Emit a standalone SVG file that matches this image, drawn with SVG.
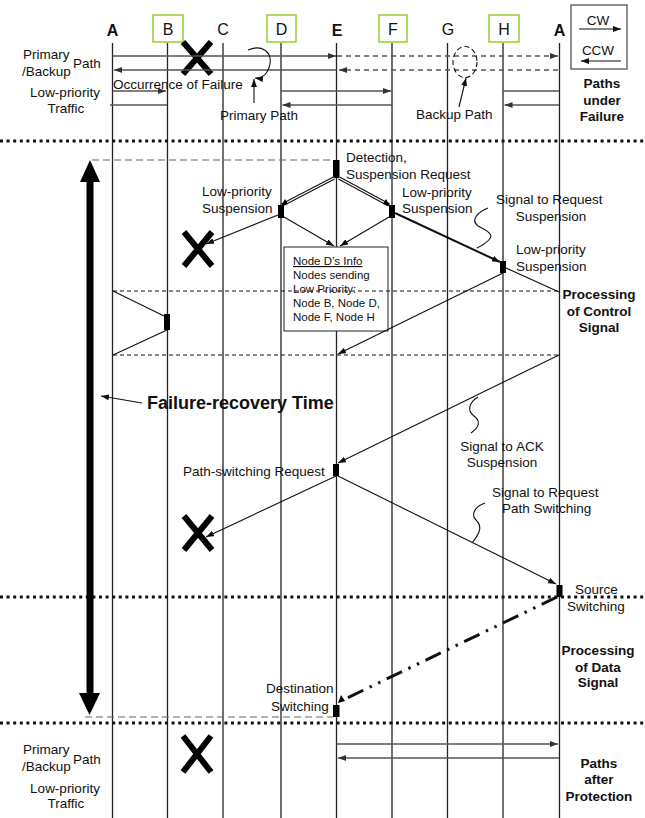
<svg xmlns="http://www.w3.org/2000/svg" width="645" height="818" viewBox="0 0 645 818">
<style>
text{font-family:"Liberation Sans",Arial,sans-serif;fill:#111}
.t{font-size:13.5px}
.n{font-size:16px}
.b{font-weight:bold}
.s{font-size:11.5px}
.v{stroke:#222;stroke-width:1.3;fill:none}
.p{stroke:#555;stroke-width:1.3;fill:none}
.l{stroke:#111;stroke-width:1.1;fill:none}
.dot{stroke:#111;stroke-width:3;stroke-dasharray:3 3.6;fill:none}
.dsh{stroke:#111;stroke-width:1;stroke-dasharray:4 3;fill:none}
.gd{stroke:#666;stroke-width:1.2;stroke-dasharray:7 4;fill:none}
.x{stroke:#000;stroke-width:6;fill:none}
.blk{fill:#000}
.gb{fill:#fff;stroke:#9c3;stroke-width:1.5}
</style>
<defs>
<marker id="ar" markerWidth="8" markerHeight="6" refX="8" refY="3" orient="auto" markerUnits="userSpaceOnUse"><path d="M0,0 L8,3 L0,6 z" fill="#111"/></marker>
<marker id="arg" markerWidth="8" markerHeight="6" refX="8" refY="3" orient="auto" markerUnits="userSpaceOnUse"><path d="M0,0 L8,3 L0,6 z" fill="#333"/></marker>
</defs>

<!-- node lifelines and headers -->
<g id="nodeA"><line class="v" x1="112.5" y1="43" x2="112.5" y2="818"/><text class="n b" x="112.5" y="36" text-anchor="middle">A</text></g>
<g id="nodeB"><rect class="gb" x="153" y="15" width="30" height="27"/><line class="v" x1="167.5" y1="43" x2="167.5" y2="818"/><text class="n" x="168" y="35" text-anchor="middle">B</text></g>
<g id="nodeC"><line class="v" x1="223" y1="43" x2="223" y2="818"/><text class="n" x="223" y="35" text-anchor="middle">C</text></g>
<g id="nodeD"><rect class="gb" x="267" y="15" width="29" height="27"/><line class="v" x1="281" y1="43" x2="281" y2="818"/><text class="n" x="281.5" y="35" text-anchor="middle">D</text></g>
<g id="nodeE"><line class="v" x1="336.5" y1="43" x2="336.5" y2="818"/><text class="n b" x="337" y="36" text-anchor="middle">E</text></g>
<g id="nodeF"><rect class="gb" x="379" y="15" width="28" height="27"/><line class="v" x1="392" y1="43" x2="392" y2="818"/><text class="n" x="393" y="35" text-anchor="middle">F</text></g>
<g id="nodeG"><line class="v" x1="447.5" y1="43" x2="447.5" y2="818"/><text class="n" x="448" y="35" text-anchor="middle">G</text></g>
<g id="nodeH"><rect class="gb" x="489" y="15" width="30" height="27"/><line class="v" x1="503" y1="43" x2="503" y2="818"/><text class="n" x="504" y="35" text-anchor="middle">H</text></g>
<g id="nodeA2"><line class="v" x1="559.5" y1="43" x2="559.5" y2="818"/><text class="n b" x="559.5" y="36" text-anchor="middle">A</text></g>

<!-- legend -->
<g id="legend">
<rect x="571" y="5" width="56" height="64" fill="#fff" stroke="#555" stroke-width="1.3"/>
<text class="t" x="598" y="25" text-anchor="middle">CW</text>
<line class="l" x1="579" y1="29" x2="621" y2="29" marker-end="url(#ar)"/>
<text class="t" x="598" y="55" text-anchor="middle">CCW</text>
<line class="l" x1="621" y1="61" x2="581" y2="61" marker-end="url(#ar)"/>
<text class="t b" x="602" y="88" text-anchor="middle">Paths</text>
<text class="t b" x="602" y="105" text-anchor="middle">under</text>
<text class="t b" x="602" y="121" text-anchor="middle">Failure</text>
</g>

<!-- separators -->
<g id="separators">
<line class="dot" x1="0" y1="141" x2="645" y2="141"/>
<line class="dot" x1="0" y1="597" x2="645" y2="597"/>
<line class="dot" x1="0" y1="723" x2="645" y2="723"/>
</g>

<!-- labels -->
<g id="labels">
<text class="t" x="23" y="59">Primary</text>
<text class="t" x="22" y="76">/Backup</text>
<text class="t" x="73" y="68">Path</text>
<text class="t" x="65" y="97" text-anchor="middle">Low-priority</text>
<text class="t" x="66" y="113" text-anchor="middle">Traffic</text>
<text class="t" x="113" y="89" font-size="14">Occurrence of Failure</text>
<text class="t" x="220" y="120">Primary Path</text>
<text class="t" x="416" y="119">Backup Path</text>

<text class="t" x="346" y="162">Detection,</text>
<text class="t" x="346" y="179">Suspension Request</text>
<text class="t" x="202" y="196">Low-priority</text>
<text class="t" x="202" y="213">Suspension</text>
<text class="t" x="402" y="197">Low-priority</text>
<text class="t" x="402" y="213">Suspension</text>
<text class="t" x="516" y="254">Low-priority</text>
<text class="t" x="516" y="271">Suspension</text>
<text class="t" x="496" y="204">Signal to Request</text>
<text class="t" x="551" y="221" text-anchor="middle">Suspension</text>
<text class="t b" x="599" y="299" text-anchor="middle">Processing</text>
<text class="t b" x="599" y="316" text-anchor="middle">of Control</text>
<text class="t b" x="599" y="332" text-anchor="middle">Signal</text>

<text class="b" x="147" y="409" font-size="18">Failure-recovery Time</text>
<text class="t" x="502" y="451" text-anchor="middle">Signal to ACK</text>
<text class="t" x="502" y="467" text-anchor="middle">Suspension</text>
<text class="t" x="183" y="476">Path-switching Request</text>
<text class="t" x="492" y="497">Signal to Request</text>
<text class="t" x="502" y="513">Path Switching</text>
<text class="t" x="575" y="594">Source</text>
<text class="t" x="567" y="611">Switching</text>
<text class="t" x="266" y="693">Destination</text>
<text class="t" x="271" y="711">Switching</text>
<text class="t b" x="598" y="655" text-anchor="middle">Processing</text>
<text class="t b" x="598" y="672" text-anchor="middle">of Data</text>
<text class="t b" x="598" y="687" text-anchor="middle">Signal</text>

<text class="t" x="23" y="754">Primary</text>
<text class="t" x="22" y="771">/Backup</text>
<text class="t" x="73" y="764">Path</text>
<text class="t" x="65" y="793" text-anchor="middle">Low-priority</text>
<text class="t" x="66" y="808" text-anchor="middle">Traffic</text>
<text class="t b" x="599" y="768" text-anchor="middle">Paths</text>
<text class="t b" x="599" y="784" text-anchor="middle">after</text>
<text class="t b" x="599" y="801" text-anchor="middle">Protection</text>
</g>

<!-- info box -->
<g id="infoBox">
<rect x="284" y="247" width="104" height="84" fill="#fff" stroke="#222" stroke-width="1"/>
<text class="s" x="293" y="265" text-decoration="underline">Node D’s Info</text>
<text class="s" x="293" y="279">Nodes sending</text>
<text class="s" x="293" y="293">Low Priority:</text>
<text class="s" x="293" y="307">Node B, Node D,</text>
<text class="s" x="293" y="321">Node F, Node H</text>
</g>

<!-- failures -->
<g id="failures">
<path class="x" d="M183,42 L211,74 M211,42 L183,74"/>
<path class="x" d="M184,232 L212,266 M212,232 L184,266"/>
<path class="x" d="M184,516 L212,550 M212,516 L184,550"/>
<path class="x" d="M183,736 L211,772 M211,736 L183,772"/>
</g>

<!-- connectors -->
<g id="connectors">
<!-- top paths -->
<line class="p" x1="112.5" y1="56" x2="336" y2="56" marker-end="url(#arg)"/>
<line class="p" x1="337" y1="56" x2="558" y2="56" stroke-dasharray="5 4" marker-end="url(#arg)"/>
<line class="p" x1="558" y1="70" x2="339" y2="70" stroke-dasharray="5 4" marker-end="url(#arg)"/>
<line class="p" x1="336" y1="70" x2="114" y2="70" marker-end="url(#arg)"/>
<line class="p" x1="112.5" y1="91" x2="166" y2="91" marker-end="url(#arg)"/>
<line class="p" x1="110" y1="105" x2="167" y2="105"/>
<line class="p" x1="281" y1="91" x2="391" y2="91" marker-end="url(#arg)"/>
<line class="p" x1="392" y1="105" x2="282.5" y2="105" marker-end="url(#arg)"/>
<line class="p" x1="503" y1="91" x2="559" y2="91"/>
<line class="p" x1="559" y1="105" x2="504.5" y2="105" marker-end="url(#arg)"/>
<path class="l" d="M248,50 C262,44 272,52 270,64 C268,74 262,79 255,78" marker-end="url(#ar)"/>
<line class="l" x1="254" y1="103" x2="254" y2="79" marker-end="url(#ar)"/>
<ellipse cx="465" cy="62" rx="12" ry="15.5" fill="none" stroke="#111" stroke-width="1.1" stroke-dasharray="5 3"/>
<line class="l" x1="459" y1="107" x2="466" y2="78" marker-end="url(#ar)"/>

<!-- failure-recovery time -->
<line class="gd" x1="92" y1="160" x2="334" y2="160"/>
<line class="gd" x1="85" y1="717" x2="333" y2="717"/>
<line x1="90" y1="178" x2="90" y2="696" stroke="#000" stroke-width="7"/>
<path class="blk" d="M80,182 L90,160 L100,182 z"/>
<path class="blk" d="M79,693 L89.5,715 L100,693 z"/>
<line class="l" x1="142" y1="403" x2="101" y2="396" marker-end="url(#ar)"/>

<!-- control signal -->
<rect class="blk" x="333" y="160" width="6.5" height="18"/>
<line x1="334" y1="178" x2="282" y2="205" stroke="#111" stroke-width="3.6"/>
<line x1="334" y1="178" x2="282" y2="205" stroke="#fff" stroke-width="1.4"/>
<path class="blk" d="M281,206 L285,199 L288,204 z"/>
<line x1="339" y1="178" x2="389" y2="205" stroke="#111" stroke-width="3.6"/>
<line x1="339" y1="178" x2="389" y2="205" stroke="#fff" stroke-width="1.4"/>
<path class="blk" d="M390,206 L383,204 L386,199 z"/>
<rect class="blk" x="278" y="205" width="6" height="13"/>
<rect class="blk" x="389" y="205" width="6" height="13"/>
<line class="l" x1="278" y1="215" x2="206" y2="244" marker-end="url(#ar)"/>
<line class="l" x1="284" y1="217" x2="334" y2="246" marker-end="url(#ar)"/>
<line class="l" x1="389" y1="217" x2="340" y2="246" marker-end="url(#ar)"/>
<line x1="395" y1="213" x2="500" y2="262" stroke="#111" stroke-width="2" marker-end="url(#ar)"/>
<rect class="blk" x="500" y="261" width="6" height="12"/>
<line class="l" x1="506" y1="268" x2="559" y2="292"/>
<path class="l" d="M488,208 C478,212 470,220 478,226 C490,232 500,236 477,248"/>
<line class="dsh" x1="113" y1="291" x2="560" y2="291"/>
<line class="dsh" x1="113" y1="355" x2="560" y2="355"/>
<line class="l" x1="113" y1="291" x2="164" y2="316"/>
<rect class="blk" x="164" y="314" width="6" height="16"/>
<line class="l" x1="167" y1="330" x2="113" y2="355"/>
<line class="l" x1="503" y1="273" x2="338" y2="354" marker-end="url(#ar)"/>

<!-- ACK / path switching -->
<line class="l" x1="559" y1="355" x2="338" y2="463" marker-end="url(#ar)"/>
<path class="l" d="M478,397 C470,402 466,410 474,416 C482,422 478,428 471,433"/>
<rect class="blk" x="333" y="464" width="6" height="12"/>
<line class="l" x1="336" y1="476" x2="206" y2="537" marker-end="url(#ar)"/>
<line class="l" x1="338" y1="476" x2="556" y2="584" marker-end="url(#ar)"/>
<path class="l" d="M485,503 C476,506 470,514 476,520 C482,526 481,532 472,543"/>
<rect class="blk" x="556.5" y="585" width="6" height="12"/>

<!-- data signal -->
<line x1="557" y1="597" x2="343" y2="700" stroke="#111" stroke-width="3" stroke-dasharray="17 7 2.5 7 2.5 7"/>
<path class="blk" d="M338,703 L341,695 L345,701 z"/>
<rect class="blk" x="333" y="705" width="6.5" height="12"/>

<!-- after protection -->
<line class="p" x1="336.5" y1="744" x2="558" y2="744" marker-end="url(#arg)"/>
<line class="p" x1="559" y1="758" x2="338" y2="758" marker-end="url(#arg)"/>
</g>
</svg>
